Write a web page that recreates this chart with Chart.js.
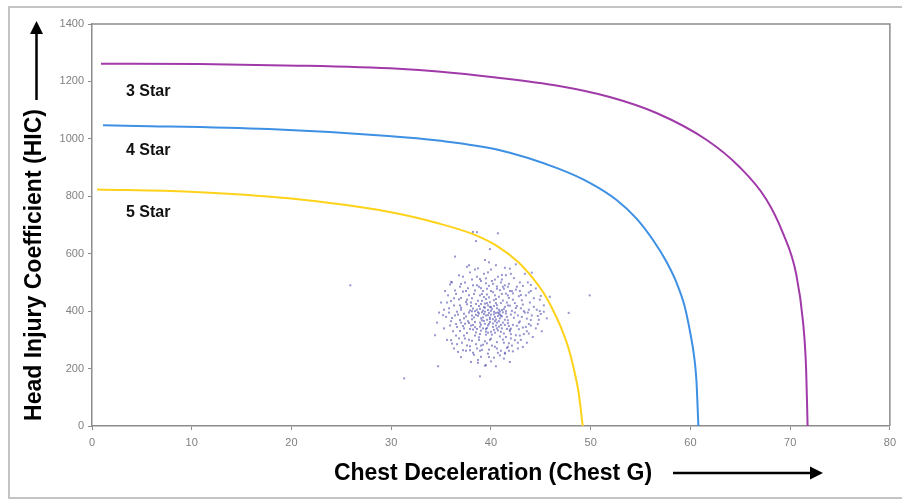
<!DOCTYPE html>
<html>
<head>
<meta charset="utf-8">
<script src="https://cdn.jsdelivr.net/npm/chart.js@4/dist/chart.umd.min.js"></script>
<style>
  html, body { margin: 0; padding: 0; background: #ffffff; }
  #wrap { width: 902px; height: 500px; position: relative; }
  canvas { display: block; }
</style>
</head>
<body>
<div id="wrap"><canvas id="c" width="902" height="500"></canvas></div>
<script>
// ---- data ----
const xTitle = 'Chest Deceleration (Chest G)';
const yTitle = 'Head Injury Coefficient (HIC)';
const xTicks = [0, 10, 20, 30, 40, 50, 60, 70, 80];
const yTicks = [0, 200, 400, 600, 800, 1000, 1200, 1400];

const starNames = ['3 Star', '4 Star', '5 Star'];
const starLabelX = [3.4, 3.4, 3.4];
const starLabelY = [1165, 959, 743];

const star3X = [0.9, 10.8, 20.7, 30.7, 34.7, 40.5, 46.7, 52.0, 56.6, 61.6, 64.9, 67.6, 69.3, 70.6, 71.3, 71.6, 71.75];
const star3Y = [1262, 1261, 1255, 1244, 1235, 1214, 1185, 1145, 1090, 997, 903, 790, 670, 530, 360, 200, 0];

const star4X = [1.1, 4.5, 17.7, 29.7, 34.7, 40.7, 46.7, 50.0, 52.6, 54.6, 56.3, 57.6, 58.6, 59.4, 59.9, 60.4, 60.6, 60.8];
const star4Y = [1047, 1045, 1034, 1010, 994, 962, 897, 845, 787, 722, 645, 572, 500, 420, 340, 235, 160, 0];

const star5X = [0.5, 9.8, 19.7, 29.7, 34.7, 38.2, 40.7, 42.7, 44.2, 45.3, 46.3, 47.0, 47.8, 48.3, 48.8, 49.2];
const star5Y = [824, 816, 793, 746, 706, 668, 625, 572, 515, 462, 398, 345, 268, 200, 115, 0];

// crash test results (chest G, HIC), read approximately from the cloud
const testResults = [
 [38.2,676],[38.6,675],[38.5,644],[36.4,590],[39.9,616],[39.4,578],[37.8,560],[38.7,549],[39.5,514],[35.9,493],[36.0,502],[37.0,446],
 [40.7,671],[42.5,563],[41.4,551],[41.1,526],[44.1,534],[43.7,500],[44.0,491],[44.5,479],[45.0,453],[45.9,450],[43.0,456],[42.2,462],[41.7,485],[41.2,485],
 [47.8,394],[45.3,398],[44.7,383],[44.0,369],[43.8,322],[42.7,290],[41.9,223],[41.4,252],[41.7,276],
 [34.4,316],[35.2,386],[34.7,208],[38.9,173],[36.0,299],[36.1,287],[36.7,258],[38.0,223],[38.7,220],[39.5,212],[40.5,208],[37.2,264],[37.9,264],
 [25.9,490],[31.3,166],[49.9,455],
 [37.2,468],[37.8,455],[38.4,472],[39.1,460],[39.6,478],[40.2,466],[40.9,473],[41.5,461],[42.1,470],[42.8,452],
 [36.8,441],[37.5,432],[38.1,445],[38.7,436],[39.3,449],[39.9,431],[40.5,442],[41.2,437],[41.8,446],[42.4,428],[43.1,438],
 [36.3,420],[37.0,412],[37.6,424],[38.2,409],[38.8,418],[39.4,426],[40.0,414],[40.6,421],[41.3,408],[41.9,419],[42.5,411],[43.2,423],[43.8,405],
 [36.6,398],[37.3,391],[37.9,402],[38.5,387],[39.1,396],[39.7,404],[40.3,389],[40.9,399],[41.5,392],[42.1,401],[42.7,385],[43.4,395],
 [36.1,376],[36.9,369],[37.5,381],[38.1,372],[38.7,384],[39.3,366],[39.9,378],[40.5,371],[41.1,382],[41.7,368],[42.3,377],[42.9,364],[43.6,374],
 [36.5,355],[37.2,348],[37.8,359],[38.4,344],[39.0,353],[39.6,341],[40.2,357],[40.8,346],[41.4,352],[42.0,339],[42.6,349],[43.2,343],
 [36.9,331],[37.6,324],[38.2,336],[38.9,320],[39.5,329],[40.1,318],[40.7,333],[41.3,322],[41.9,330],[42.5,316],
 [37.4,305],[38.1,297],[38.8,309],[39.4,295],[40.0,304],[40.6,292],[41.2,301],[41.8,288],[42.4,299],
 [37.9,278],[38.6,270],[39.2,283],[39.8,266],[40.4,276],[41.0,262],[41.6,272],
 [38.3,248],[39.0,241],[39.7,252],[40.3,238],[40.9,246],
 [39.2,402],[39.5,385],[39.8,394],[40.1,408],[40.4,380],[40.7,395],[39.0,375],[39.3,414],[39.9,362],[40.6,410],[40.0,388],[39.6,370],
 [40.3,398],[41.0,384],[38.8,392],[39.4,356],[40.8,365],[41.2,396],[38.6,405],[39.7,420],[40.5,428],[39.1,436],[41.4,415],[38.3,378],
 [40.2,345],[39.5,338],[41.0,352],[38.9,360],[40.9,375],[39.8,448],[40.4,455],[38.5,425],[41.6,430],[37.8,395],[42.0,388],[41.7,358],
 [37.7,365],[38.0,418],[39.0,480],[40.6,486],[41.3,478],[38.2,490],[39.5,497],[40.1,505],[37.4,500],[41.8,495],[42.6,485],[36.9,485],
 [38.9,512],[40.7,520],[39.3,530],[41.5,525],[37.9,535],[40.0,545],[42.3,515],[36.5,460],[43.5,455],[43.9,430],[35.8,410],[44.3,415],
 [35.5,380],[44.1,385],[35.9,350],[43.8,355],[36.2,330],[44.5,340],[36.8,305],[43.3,320],[37.1,290],[43.0,300],[42.1,280],[37.5,262],
 [41.4,255],[38.7,230],[40.0,225],[39.4,210],[41.3,235],[37.0,240],[42.2,260],[36.3,270],[43.6,290],[35.3,340],[44.8,370],[35.0,430],
 [44.9,400],[35.7,455],[44.0,470],[36.1,500],[42.9,500],[37.2,520],[38.4,545],[41.9,548],[39.8,570],[40.5,560],[37.6,555],[36.8,525],
 [43.4,530],[35.4,470],[45.3,420],[34.8,395],[45.6,375],[34.6,360],[45.1,330],[35.6,300],[44.2,310],[36.6,285],[42.7,270],[38.2,255],
 [40.6,270],[39.0,280],[39.9,300],[38.4,315],[41.5,310],[40.4,325],[39.2,340],[41.9,335],[38.0,350],[42.8,360],[37.3,375],[42.4,395],
 [37.0,405],[43.0,410],[37.6,440],[42.2,440],[38.9,455],[41.1,460],[40.0,470],[39.6,458],[40.3,438],[39.0,425],[41.7,420],[38.4,400],
 [40.8,405],[39.9,415],[40.2,372],[39.3,390],[40.6,360],[39.7,350],[41.1,340],[38.6,338],[40.0,328],[41.4,370],[38.1,385],[39.5,318],
 [40.9,312],[38.8,300],[42.0,320],[37.3,340],[43.5,345],[36.4,385],[43.7,395],[36.0,435],[42.9,470],[37.7,480],[41.9,470],[38.6,490],
 [40.2,495],[41.0,500],[39.0,505],
 [38.9,408],[39.4,412],[40.0,401],[40.5,394],[41.1,404],[39.7,386],[38.7,396],[41.6,380],[40.9,388],[39.2,378],[40.7,383],[38.4,362],
 [39.1,368],[39.8,356],[40.4,365],[41.2,360],[41.8,348],[38.2,352],[38.9,346],[40.6,340],[41.6,338],[39.0,332],[40.3,335],[39.7,325],
 [41.0,328],[38.5,326],[42.2,352],[37.4,356],[37.9,338],[42.8,337],[37.0,360],[43.1,380],[36.7,388],[43.3,400],[36.9,420],[42.6,418],
 [38.0,430],[41.0,428],[39.5,442],[40.8,450],[38.3,460],[41.7,455],[39.2,470],[40.6,478],[38.8,485],[41.4,490],[39.8,488],[40.4,510],
 [38.6,520],[41.1,510],[39.7,535],[42.0,530],[38.1,510],[37.0,495],[43.2,488],[36.4,472],[44.3,445],[35.6,430],[44.6,405],[35.3,405],
 [45.0,390],[36.0,365],[44.0,350],[36.6,345],[43.6,330],[37.3,315],[42.9,315],[37.8,300],[42.0,305],[38.5,285],[41.3,290],[39.6,288],
 [40.1,280],[39.1,265],[40.7,255],[39.8,240],[38.9,262],[41.8,262],[37.6,280],[43.2,275],[36.5,315],[44.7,355],[35.8,395],[44.9,440],
 [36.3,445],[43.8,465],[37.5,470],[42.5,475],[38.1,400],[41.5,400],[39.6,428],[40.3,418],[39.4,398],[40.8,392],[39.9,372],[40.5,350]
];

// ---- build datasets ----
const pairs = (xs, ys) => xs.map((x, i) => ({ x: x, y: ys[i] }));

const framePlugin = {
  id: 'frame',
  beforeDraw(chart) {
    const ctx = chart.ctx;
    ctx.save();
    ctx.fillStyle = '#ffffff';
    ctx.fillRect(0, 0, chart.width, chart.height);
    ctx.strokeStyle = '#c4c4c4';
    ctx.lineWidth = 2;
    ctx.strokeRect(9, 7, chart.width + 10, chart.height - 9);
    ctx.restore();
  },
  afterDatasetsDraw(chart) {
    const ctx = chart.ctx;
    const a = chart.chartArea;
    ctx.save();
    ctx.strokeStyle = '#8c8c8c';
    ctx.lineWidth = 1.5;
    ctx.beginPath();
    ctx.moveTo(a.left, a.top);
    ctx.lineTo(a.right, a.top);
    ctx.lineTo(a.right, a.bottom);
    ctx.stroke();
    ctx.restore();
  },
  afterDraw(chart) {
    const ctx = chart.ctx;
    const xs = chart.scales.x, ys = chart.scales.y;
    ctx.save();
    // star labels
    ctx.fillStyle = '#111111';
    ctx.font = 'bold 16px "Liberation Sans", Arial, sans-serif';
    ctx.textAlign = 'left';
    ctx.textBaseline = 'middle';
    starNames.forEach((t, i) => {
      ctx.fillText(t, xs.getPixelForValue(starLabelX[i]), ys.getPixelForValue(starLabelY[i]));
    });
    // axis titles
    ctx.font = 'bold 23px "Liberation Sans", Arial, sans-serif';
    ctx.fillStyle = '#000000';
    ctx.textAlign = 'center';
    ctx.fillText(xTitle, 493, 474);
    ctx.save();
    ctx.translate(35, 265);
    ctx.rotate(-Math.PI / 2);
    ctx.fillText(yTitle, 0, 0);
    ctx.restore();
    // arrows
    ctx.strokeStyle = '#000000';
    ctx.fillStyle = '#000000';
    ctx.lineWidth = 2.5;
    ctx.beginPath();
    ctx.moveTo(673, 473); ctx.lineTo(812, 473); ctx.stroke();
    ctx.beginPath();
    ctx.moveTo(823, 473); ctx.lineTo(810, 466.5); ctx.lineTo(810, 479.5); ctx.closePath(); ctx.fill();
    ctx.beginPath();
    ctx.moveTo(36.5, 100); ctx.lineTo(36.5, 32); ctx.stroke();
    ctx.beginPath();
    ctx.moveTo(36.5, 21); ctx.lineTo(30, 34); ctx.lineTo(43, 34); ctx.closePath(); ctx.fill();
    ctx.restore();
  }
};

const lineStyle = (color) => ({
  showLine: true, borderColor: color, backgroundColor: color, borderWidth: 2,
  pointRadius: 0, pointHoverRadius: 0, cubicInterpolationMode: 'monotone', fill: false
});

new Chart(document.getElementById('c'), {
  type: 'scatter',
  data: {
    datasets: [
      Object.assign({ label: starNames[0], data: pairs(star3X, star3Y), order: 1 }, lineStyle('#a03aa8')),
      Object.assign({ label: starNames[1], data: pairs(star4X, star4Y), order: 1 }, lineStyle('#3d90e4')),
      Object.assign({ label: starNames[2], data: pairs(star5X, star5Y), order: 1 }, lineStyle('#ffd21a')),
      {
        label: 'Test results',
        data: testResults.map(p => ({ x: p[0], y: p[1] })),
        showLine: false,
        pointRadius: 1.4,
        pointStyle: 'rect',
        borderWidth: 0,
        backgroundColor: 'rgba(60,60,170,0.55)',
        order: 0
      }
    ]
  },
  options: {
    responsive: false,
    animation: false,
    events: [],
    layout: { padding: { left: 0, top: 24, right: 8, bottom: 0 } },
    plugins: { legend: { display: false }, tooltip: { enabled: false } },
    scales: {
      x: {
        type: 'linear', min: 0, max: 80,
        afterFit(s) { s.height = 74; },
        afterBuildTicks(s) { s.ticks = xTicks.map(v => ({ value: v })); },
        border: { display: true, color: '#8c8c8c', width: 1.5 },
        grid: { display: true, drawOnChartArea: false, drawTicks: true, tickLength: 4, color: '#8c8c8c' },
        ticks: { color: '#808080', font: { size: 11, family: '"Liberation Sans", Arial, sans-serif' }, padding: 6, maxRotation: 0,
                 callback: (v) => String(v) }
      },
      y: {
        type: 'linear', min: 0, max: 1400,
        afterFit(s) { s.width = 92; },
        afterBuildTicks(s) { s.ticks = yTicks.map(v => ({ value: v })); },
        border: { display: true, color: '#8c8c8c', width: 1.5 },
        grid: { display: true, drawOnChartArea: false, drawTicks: true, tickLength: 4, color: '#8c8c8c' },
        ticks: { color: '#808080', font: { size: 11, family: '"Liberation Sans", Arial, sans-serif' }, padding: 4,
                 callback: (v) => String(v) }
      }
    }
  },
  plugins: [framePlugin]
});
</script>
</body>
</html>
